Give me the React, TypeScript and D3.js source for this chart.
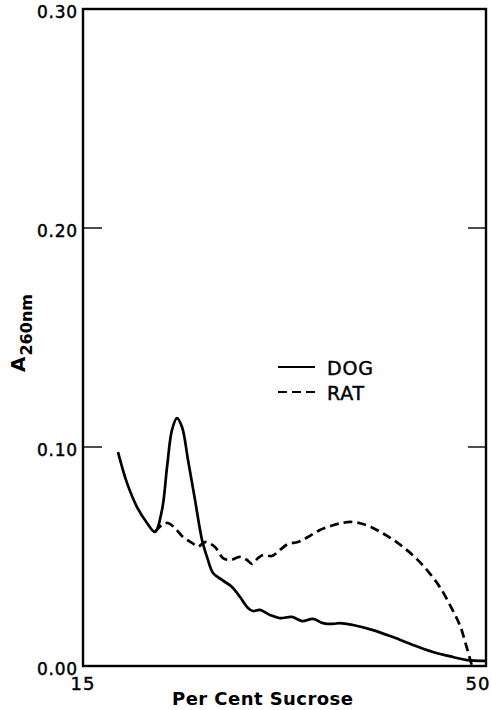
import React from "react";
import * as d3 from "d3";

const dogX = [18.04, 18.82, 19.69, 20.56, 21.25, 21.86, 22.3, 22.73, 23.16, 23.6, 24.12, 24.73, 25.34, 25.77, 26.29, 27.07, 27.94, 28.64, 29.33, 29.76, 30.37, 31.24, 32.11, 33.15, 34.02, 34.98, 35.84, 36.71, 37.32, 38.45, 40.19, 41.92, 43.66, 45.4, 47.13, 48.35, 50.0];
const dogY = [0.0977, 0.0836, 0.0726, 0.0653, 0.0612, 0.0712, 0.0909, 0.1078, 0.1132, 0.1091, 0.0941, 0.0758, 0.0575, 0.0498, 0.0425, 0.0393, 0.0361, 0.0315, 0.0265, 0.0251, 0.0256, 0.0233, 0.0219, 0.0224, 0.0205, 0.0215, 0.0196, 0.0192, 0.0196, 0.0187, 0.0164, 0.0132, 0.0096, 0.0064, 0.0041, 0.0027, 0.0023];

const ratX = [21.25, 21.86, 22.38, 22.99, 23.69, 24.47, 24.99, 25.6, 26.46, 27.16, 27.77, 28.64, 29.24, 29.68, 30.2, 30.63, 31.41, 32.11, 32.8, 33.67, 34.54, 35.58, 36.71, 37.5, 38.2, 39.06, 40.0, 41.0, 42.0, 43.0, 44.0, 45.0, 46.0, 47.0, 47.74, 48.3, 48.78];
const ratY = [0.0612, 0.0644, 0.0653, 0.063, 0.0589, 0.0562, 0.0545, 0.0566, 0.0543, 0.0493, 0.0484, 0.0498, 0.0484, 0.0466, 0.0493, 0.0507, 0.0502, 0.053, 0.0557, 0.0566, 0.0589, 0.0621, 0.0643, 0.0653, 0.0658, 0.0652, 0.0635, 0.0607, 0.0574, 0.0535, 0.0488, 0.043, 0.036, 0.0265, 0.0185, 0.009, 0.0];

const yTicks = [0, 0.1, 0.2, 0.3];
const yTickLabels = ["0.00", "0.10", "0.20", "0.30"];
const xTicks = [15, 50];
const xTickLabels = ["15", "50"];
const seriesNames = ["DOG", "RAT"];

const FONT = "'DejaVu Sans', Verdana, sans-serif";

export default function App() {
  const left = 83, right = 486, top = 9, bottom = 666;
  const x = d3.scaleLinear().domain([15, 50]).range([left, right]);
  const y = d3.scaleLinear().domain([0, 0.3]).range([bottom, top]);

  const line = d3
    .line<[number, number]>()
    .x((d) => x(d[0]))
    .y((d) => y(d[1]))
    .curve(d3.curveCatmullRom.alpha(0.5));

  const dogPts: [number, number][] = dogX.map((v, i) => [v, dogY[i]]);
  const ratPts: [number, number][] = ratX.map((v, i) => [v, ratY[i]]);

  const xLabelDx = [0, -8];
  const heavy = { stroke: "#000", strokeWidth: 0.45 };

  return (
    <svg
      width={491}
      height={710}
      style={{ position: "absolute", left: 0, top: 0, background: "#fff" }}
    >
      <rect x={0} y={0} width={491} height={710} fill="#fff" />
      <defs>
        <clipPath id="plot">
          <rect x={left} y={top} width={right - left} height={bottom - top} />
        </clipPath>
      </defs>

      {/* frame */}
      <rect
        x={left}
        y={top}
        width={right - left}
        height={bottom - top}
        fill="none"
        stroke="#000"
        strokeWidth={2.4}
      />

      {/* inner ticks */}
      {yTicks
        .filter((t) => t > 0 && t < 0.3)
        .map((t) => (
          <g key={t}>
            <line x1={left} x2={left + 19} y1={y(t)} y2={y(t)} stroke="#000" strokeWidth={1.4} />
            <line x1={right - 18} x2={right} y1={y(t)} y2={y(t)} stroke="#000" strokeWidth={1.4} />
          </g>
        ))}

      {/* y tick labels */}
      {yTicks.map((t, i) => (
        <text
          key={t}
          x={left - 5}
          y={y(t) + 3}
          textAnchor="end"
          dominantBaseline="central"
          fontFamily={FONT}
          fontSize={17}
          letterSpacing={0.8}
          fill="#000"
          {...heavy}
        >
          {yTickLabels[i]}
        </text>
      ))}

      {/* x tick labels */}
      {xTicks.map((t, i) => (
        <text
          key={t}
          x={x(t) + xLabelDx[i]}
          y={690}
          textAnchor="middle"
          fontFamily={FONT}
          fontSize={18}
          letterSpacing={1}
          fill="#000"
          {...heavy}
        >
          {xTickLabels[i]}
        </text>
      ))}

      {/* x axis title */}
      <text
        x={172}
        y={705}
        fontFamily={FONT}
        fontSize={18}
        fontWeight="bold"
        textLength={181}
        lengthAdjust="spacing"
        fill="#000"
      >
        Per Cent Sucrose
      </text>

      {/* y axis title */}
      <text
        transform="translate(25,372) rotate(-90)"
        fontFamily={FONT}
        fontWeight="bold"
        fill="#000"
      >
        <tspan fontSize={20}>A</tspan>
        <tspan fontSize={16} dy={7} dx={1}>260nm</tspan>
      </text>

      {/* curves */}
      <g clipPath="url(#plot)">
        <path d={line(dogPts) || ""} fill="none" stroke="#000" strokeWidth={2.7} strokeLinejoin="round" />
        <path
          d={line(ratPts) || ""}
          fill="none"
          stroke="#000"
          strokeWidth={2.7}
          strokeDasharray="9,5"
        />
      </g>

      {/* legend */}
      <line x1={278} x2={315} y1={367} y2={367} stroke="#000" strokeWidth={2} />
      <text x={327} y={375} fontFamily={FONT} fontSize={19} fill="#000" letterSpacing={0.8} {...heavy}>
        {seriesNames[0]}
      </text>
      <line x1={278} x2={315} y1={392} y2={392} stroke="#000" strokeWidth={2} strokeDasharray="9,5" />
      <text x={327} y={400} fontFamily={FONT} fontSize={19} fill="#000" letterSpacing={0.8} {...heavy}>
        {seriesNames[1]}
      </text>
    </svg>
  );
}
